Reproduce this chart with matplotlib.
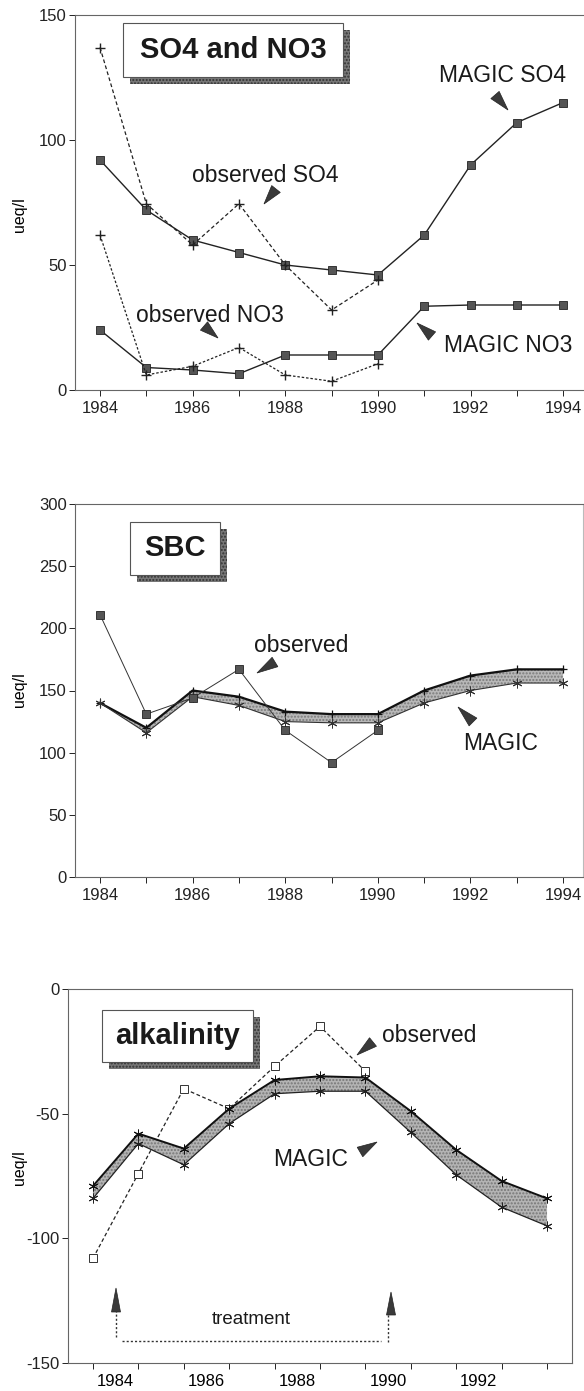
import numpy as np
import matplotlib
matplotlib.use("Agg")
import matplotlib.pyplot as plt
from matplotlib.patches import Rectangle, Polygon

plt.rcParams['font.family'] = ['Liberation Sans', 'DejaVu Sans']
plt.rcParams['axes.unicode_minus'] = False

# --- data (ueq/l) ---
years = np.arange(1984, 1995)
obs_years = np.arange(1984, 1991)

magic_so4 = [92, 72, 60, 55, 50, 48, 46, 62, 90, 107, 115]
magic_no3 = [24, 9, 8, 6.5, 14, 14, 14, 33.5, 34, 34, 34]
obs_so4 = [137, 74.5, 58, 74.5, 50, 32, 44]
obs_no3 = [62, 6, 9.5, 17, 6, 3.5, 10.5]

sbc_obs = [211, 131, 144, 167, 118, 92, 118]
sbc_hi = [140, 120, 150, 145, 133, 131, 131, 150, 162, 167, 167]
sbc_lo = [140, 116, 145, 138, 125, 124, 124, 140, 150, 156, 156]

alk_years = 1983.5 + np.arange(11)
alk_obs_years = 1983.5 + np.arange(7)
alk_hi = [-79, -58, -64, -48, -36.5, -35, -35.5, -49, -64.5, -77, -84]
alk_lo = [-84, -62, -70.5, -54, -42, -41, -41, -57.5, -74.5, -87.5, -95]
alk_obs = [-108, -74, -40, -48, -31, -15, -33]

W, H = 584, 1391
fig = plt.figure(figsize=(W / 100, H / 100), dpi=100)


def fx(x):
    return x / W


def fy(y):
    return 1 - y / H


def label_box(x0, y0, x1, y1, text):
    w, h = (x1 - x0) / W, (y1 - y0) / H
    fig.add_artist(Rectangle((fx(x0 + 7), fy(y1 + 7)), w, h, transform=fig.transFigure,
                             facecolor='#777777', edgecolor='#333333', hatch='.....', lw=0))
    fig.add_artist(Rectangle((fx(x0), fy(y1)), w, h, transform=fig.transFigure,
                             facecolor='white', edgecolor='#555555', lw=0.8))
    fig.text(fx((x0 + x1) / 2), fy((y0 + y1) / 2), text, ha='center', va='center',
             fontsize=21, fontweight='bold', color='#1a1a1a')


def pointer(tip, base, w=11):
    tx, ty = tip
    bx, by = base
    dx, dy = tx - bx, ty - by
    L = np.hypot(dx, dy)
    nx, ny = -dy / L, dx / L
    pts = [(tx, ty), (bx + nx * w / 2, by + ny * w / 2), (bx - nx * w / 2, by - ny * w / 2)]
    fig.add_artist(Polygon([(fx(x), fy(y)) for x, y in pts], closed=True,
                           transform=fig.transFigure, facecolor='#3a3a3a',
                           edgecolor='#222222', lw=0.5))


def note(x, y, text, size=16.5):
    fig.text(fx(x), fy(y), text, ha='center', va='center', fontsize=size, color='#1a1a1a')


def style_axes(ax):
    for s in ax.spines.values():
        s.set_color('#666666')
        s.set_linewidth(0.8)
    ax.tick_params(direction='out', length=4, width=0.7, labelsize=12, pad=2, colors='#222222')
    ax.tick_params(axis='x', pad=4)


def ylab(y):
    fig.text(fx(20), fy(y), 'ueq/l', rotation=90, ha='center', va='center', fontsize=11.5)


sq = dict(marker='s', markersize=5.5, markerfacecolor='#555555', markeredgecolor='#222222',
          markeredgewidth=0.6)
star = (6, 2, 0)

# ---------------- panel 1: SO4 and NO3 ----------------
ax1 = fig.add_axes([fx(75), fy(390), 510 / W, 375 / H])
ax1.plot(years, magic_so4, color='#222222', lw=1.0, **sq)
ax1.plot(years, magic_no3, color='#222222', lw=1.0, **sq)
ax1.plot(obs_years, obs_so4, color='#222222', lw=0.9, dashes=(3, 2),
         marker='+', markersize=7, markeredgewidth=1.0)
ax1.plot(obs_years, obs_no3, color='#222222', lw=0.9, dashes=(2, 1.5),
         marker='+', markersize=7, markeredgewidth=1.0)
ax1.set_xlim(1983.46, 1994.47)
ax1.set_ylim(0, 150)
ax1.set_yticks([0, 50, 100, 150])
ax1.set_xticks(years)
ax1.set_xticklabels([str(y) if y % 2 == 0 else '' for y in years])
style_axes(ax1)
ax1.spines['right'].set_visible(False)
ylab(215)

label_box(123, 23, 343, 77, 'SO4 and NO3')
note(503, 75, 'MAGIC SO4')
pointer((508, 110), (495, 95))
note(265, 175, 'observed SO4')
pointer((264, 204), (276, 189))
note(210, 316, 'observed NO3')
pointer((218, 338), (204, 326))
note(508, 346, 'MAGIC NO3')
pointer((417, 323), (432, 336))

# ---------------- panel 2: SBC ----------------
ax2 = fig.add_axes([fx(75), fy(877), 508 / W, 373 / H])
ax2.fill_between(years, sbc_lo, sbc_hi, facecolor='#b8b8b8', edgecolor='#7a7a7a',
                 hatch='.....', lw=0)
ax2.plot(years, sbc_hi, color='#111111', lw=1.6, marker='+', markersize=6, markeredgewidth=0.9)
ax2.plot(years, sbc_lo, color='#333333', lw=0.8, marker=star, markersize=7, markeredgewidth=0.7)
ax2.plot(obs_years, sbc_obs, color='#333333', lw=0.7, **sq)
ax2.set_xlim(1983.46, 1994.43)
ax2.set_ylim(0, 300)
ax2.set_yticks(np.arange(0, 301, 50))
ax2.set_xticks(years)
ax2.set_xticklabels([str(y) if y % 2 == 0 else '' for y in years])
style_axes(ax2)
ax2.spines['right'].set_color('#bbbbbb')
ylab(690)

label_box(130, 522, 220, 575, 'SBC')
note(301, 646, 'observed')
pointer((257, 673), (275, 662))
note(501, 744, 'MAGIC')
pointer((458, 707), (473, 722))

# ---------------- panel 3: alkalinity ----------------
ax3 = fig.add_axes([fx(68), fy(1363), 504 / W, 374 / H])
ax3.plot(alk_obs_years, alk_obs, color='#222222', lw=0.9, dashes=(3, 2), marker='s',
         markersize=5.5, markerfacecolor='white', markeredgecolor='#333333',
         markeredgewidth=0.7, zorder=1)
ax3.fill_between(alk_years, alk_lo, alk_hi, facecolor='#b4b4b4', edgecolor='#767676',
                 hatch='.....', lw=0, zorder=2)
ax3.plot(alk_years, alk_hi, color='#111111', lw=1.4, marker=star, markersize=7,
         markeredgewidth=0.7, zorder=3)
ax3.plot(alk_years, alk_lo, color='#222222', lw=0.9, marker=star, markersize=7,
         markeredgewidth=0.7, zorder=3)
ax3.set_xlim(1982.95, 1994.05)
ax3.set_ylim(-150, 0)
ax3.set_yticks([-150, -100, -50, 0])
ax3.set_xticks(alk_years)
ax3.set_xticklabels([])
ax3.set_xticks([1984, 1986, 1988, 1990, 1992], minor=True)
ax3.set_xticklabels(['1984', '1986', '1988', '1990', '1992'], minor=True)
style_axes(ax3)
ax3.tick_params(axis='x', which='minor', length=0, labelsize=12, pad=8)
ylab(1168)

# treatment period marker
ax3.plot([1984, 1984], [-139.5, -129], color='#333333', lw=1.0, dashes=(1.5, 1.5))
ax3.plot([1990, 1990], [-141.5, -130], color='#333333', lw=1.0, dashes=(1.5, 1.5))
ax3.plot([1984.15, 1989.85], [-141.2, -141.2], color='#333333', lw=1.0, dashes=(1.5, 1.5))
ax3.text(1986.98, -132.4, 'treatment', ha='center', va='center', fontsize=13.5, color='#1a1a1a')
pointer((116, 1288), (116, 1312), w=9)
pointer((391, 1292), (391, 1315), w=9)

label_box(102, 1010, 253, 1062, 'alkalinity')
note(429, 1036, 'observed')
pointer((357, 1055), (373, 1042))
note(311, 1159, 'MAGIC')
pointer((377, 1142), (360, 1152))

fig.savefig('out.png', dpi=100)
